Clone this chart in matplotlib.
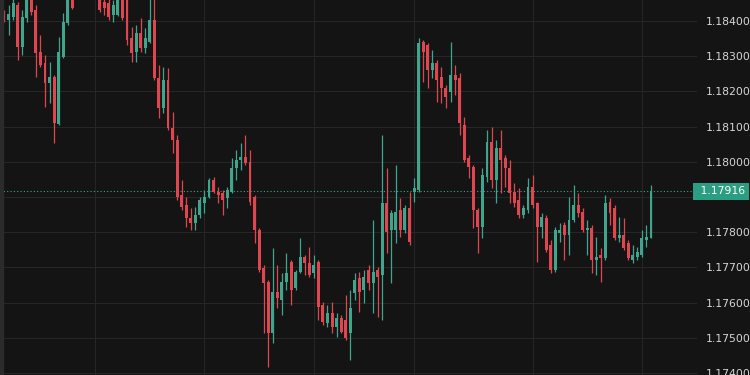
import matplotlib
matplotlib.use("Agg")
import matplotlib.pyplot as plt
import numpy as np

# EUR/USD intraday candles (visible window)
opens = [
    1.18423, 1.18403, 1.18411, 1.18446, 1.18326, 1.18409, 1.18474, 1.18431, 1.18312, 1.18281,
    1.18224, 1.18241, 1.18107, 1.18298, 1.18394, 1.18482, 1.18474, 1.18516, 1.18494, 1.18531,
    1.18502, 1.18474, 1.18454, 1.18451, 1.18417, 1.18417, 1.18468, 1.18460, 1.18352, 1.18312,
    1.18366, 1.18323, 1.18340, 1.18403, 1.18238, 1.18153, 1.18232, 1.18096, 1.18062, 1.17906,
    1.17877, 1.17840, 1.17826, 1.17849, 1.17883, 1.17900, 1.17948, 1.17914, 1.17911, 1.17897,
    1.17914, 1.17982, 1.18005, 1.18014, 1.18000, 1.17900, 1.17806, 1.17698, 1.17659, 1.17514,
    1.17630, 1.17607, 1.17659, 1.17715, 1.17642, 1.17687, 1.17730, 1.17713, 1.17684, 1.17715,
    1.17593, 1.17542, 1.17570, 1.17531, 1.17556, 1.17551, 1.17514, 1.17627, 1.17670, 1.17636,
    1.17693, 1.17656, 1.17693, 1.17678, 1.17883, 1.17806, 1.17806, 1.17863, 1.17806, 1.17869,
    1.17914, 1.17920, 1.18340, 1.18332, 1.18261, 1.18281, 1.18241, 1.18210, 1.18198, 1.18247,
    1.18238, 1.18105, 1.18011, 1.17985, 1.17863, 1.17815, 1.17957, 1.18056, 1.17948, 1.18039,
    1.18011, 1.17982, 1.17914, 1.17892, 1.17849, 1.17863, 1.17928, 1.17883, 1.17815, 1.17840,
    1.17764, 1.17693, 1.17798, 1.17820, 1.17792, 1.17835, 1.17877, 1.17857, 1.17806, 1.17812,
    1.17721, 1.17735, 1.17727, 1.17886, 1.17869, 1.17784, 1.17792, 1.17769, 1.17721, 1.17730,
    1.17735, 1.17778, 1.17784,
]
highs = [
    1.18431, 1.18446, 1.18465, 1.18454, 1.18431, 1.18488, 1.18488, 1.18446, 1.18360, 1.18303,
    1.18284, 1.18247, 1.18355, 1.18423, 1.18488, 1.18488, 1.18531, 1.18539, 1.18545, 1.18551,
    1.18516, 1.18488, 1.18474, 1.18465, 1.18460, 1.18482, 1.18482, 1.18474, 1.18383, 1.18389,
    1.18409, 1.18380, 1.18465, 1.18468, 1.18275, 1.18269, 1.18267, 1.18142, 1.18076, 1.17948,
    1.17900, 1.17869, 1.17872, 1.17900, 1.17920, 1.17954, 1.17957, 1.17928, 1.17920, 1.17928,
    1.18011, 1.18034, 1.18053, 1.18076, 1.18034, 1.17906, 1.17812, 1.17707, 1.17664, 1.17755,
    1.17707, 1.17684, 1.17741, 1.17721, 1.17693, 1.17784, 1.17735, 1.17758, 1.17735, 1.17721,
    1.17601, 1.17593, 1.17601, 1.17570, 1.17565, 1.17622, 1.17636, 1.17684, 1.17687, 1.17693,
    1.17707, 1.17835, 1.17701, 1.18076, 1.17982, 1.17863, 1.17991, 1.17897, 1.17877, 1.17914,
    1.17954, 1.18352, 1.18346, 1.18338, 1.18318, 1.18289, 1.18269, 1.18218, 1.18340, 1.18275,
    1.18252, 1.18127, 1.18019, 1.17991, 1.17869, 1.17982, 1.18090, 1.18099, 1.18062, 1.18090,
    1.18019, 1.18005, 1.17940, 1.17926, 1.17877, 1.17954, 1.17963, 1.17886, 1.17855, 1.17849,
    1.17778, 1.17815, 1.17826, 1.17829, 1.17900, 1.17934, 1.17911, 1.17869, 1.17835, 1.17820,
    1.17786, 1.17755, 1.17906, 1.17897, 1.17877, 1.17843, 1.17840, 1.17778, 1.17764, 1.17758,
    1.17806, 1.17820, 1.17934,
]
lows = [
    1.18397, 1.18360, 1.18403, 1.18289, 1.18303, 1.18397, 1.18417, 1.18241, 1.18269, 1.18156,
    1.18167, 1.18053, 1.18105, 1.18295, 1.18389, 1.18434, 1.18465, 1.18477, 1.18482, 1.18488,
    1.18463, 1.18426, 1.18417, 1.18403, 1.18397, 1.18414, 1.18403, 1.18332, 1.18284, 1.18284,
    1.18312, 1.18309, 1.18338, 1.18232, 1.18124, 1.18139, 1.18090, 1.18025, 1.17892, 1.17863,
    1.17815, 1.17806, 1.17806, 1.17840, 1.17855, 1.17897, 1.17911, 1.17883, 1.17849, 1.17869,
    1.17911, 1.17948, 1.17977, 1.17991, 1.17877, 1.17769, 1.17687, 1.17514, 1.17417, 1.17485,
    1.17585, 1.17565, 1.17636, 1.17593, 1.17636, 1.17684, 1.17678, 1.17673, 1.17670, 1.17551,
    1.17536, 1.17531, 1.17514, 1.17502, 1.17514, 1.17494, 1.17437, 1.17607, 1.17573, 1.17598,
    1.17636, 1.17570, 1.17559, 1.17551, 1.17741, 1.17656, 1.17769, 1.17786, 1.17798, 1.17764,
    1.17886, 1.17914, 1.18227, 1.18210, 1.18238, 1.18170, 1.18167, 1.18153, 1.18170, 1.18190,
    1.18076, 1.18000, 1.17954, 1.17812, 1.17741, 1.17784, 1.17943, 1.17926, 1.17883, 1.17911,
    1.17928, 1.17883, 1.17872, 1.17840, 1.17840, 1.17855, 1.17869, 1.17715, 1.17784, 1.17744,
    1.17684, 1.17687, 1.17772, 1.17721, 1.17735, 1.17829, 1.17843, 1.17801, 1.17735, 1.17684,
    1.17678, 1.17659, 1.17721, 1.17820, 1.17778, 1.17772, 1.17749, 1.17721, 1.17713, 1.17721,
    1.17730, 1.17758, 1.17784,
]
closes = [
    1.18406, 1.18420, 1.18451, 1.18326, 1.18411, 1.18474, 1.18426, 1.18309, 1.18275, 1.18224,
    1.18241, 1.18110, 1.18312, 1.18397, 1.18474, 1.18437, 1.18516, 1.18494, 1.18531, 1.18502,
    1.18474, 1.18431, 1.18437, 1.18411, 1.18446, 1.18468, 1.18409, 1.18346, 1.18309, 1.18366,
    1.18323, 1.18352, 1.18403, 1.18238, 1.18153, 1.18232, 1.18096, 1.18062, 1.17900, 1.17872,
    1.17840, 1.17826, 1.17849, 1.17892, 1.17900, 1.17948, 1.17914, 1.17906, 1.17892, 1.17920,
    1.17982, 1.18005, 1.18014, 1.17997, 1.17886, 1.17806, 1.17693, 1.17656, 1.17514, 1.17630,
    1.17613, 1.17659, 1.17684, 1.17636, 1.17687, 1.17730, 1.17713, 1.17678, 1.17707, 1.17587,
    1.17545, 1.17570, 1.17531, 1.17556, 1.17517, 1.17499, 1.17585, 1.17664, 1.17630, 1.17673,
    1.17656, 1.17687, 1.17673, 1.17883, 1.17801, 1.17855, 1.17857, 1.17806, 1.17869, 1.17772,
    1.17926, 1.18338, 1.18312, 1.18261, 1.18281, 1.18232, 1.18210, 1.18184, 1.18247, 1.18232,
    1.18110, 1.18005, 1.17985, 1.17863, 1.17815, 1.17963, 1.18056, 1.17948, 1.18039, 1.18005,
    1.17982, 1.17911, 1.17883, 1.17849, 1.17869, 1.17928, 1.17877, 1.17815, 1.17843, 1.17749,
    1.17693, 1.17806, 1.17806, 1.17792, 1.17835, 1.17877, 1.17855, 1.17806, 1.17812, 1.17721,
    1.17730, 1.17727, 1.17883, 1.17855, 1.17784, 1.17792, 1.17755, 1.17727, 1.17735, 1.17744,
    1.17784, 1.17786, 1.17916,
]

last_price = 1.17916
price_ticks = [1.184, 1.183, 1.182, 1.181, 1.180, 1.179, 1.178, 1.177, 1.176, 1.175, 1.174]
time_grid = [20, 44, 68, 90, 116, 140]   # candle index of the vertical grid lines

bg = '#141414'
up_col = '#3fa58d'
down_col = '#e0464f'
grid_col = '#262626'

o = np.array(opens)
h = np.array(highs)
l = np.array(lows)
c = np.array(closes)
X = np.arange(len(o))
up = c >= o
cols = np.where(up, up_col, down_col)

fig = plt.figure(figsize=(7.5, 3.75), dpi=100, facecolor=bg)
ax = fig.add_axes([0.0, 0.0, 697 / 750, 1.0])
ax.set_facecolor(bg)

# grid
for p in price_ticks:
    ax.axhline(p, color=grid_col, lw=0.8, zorder=0)
for t in time_grid:
    ax.axvline(t, color=grid_col, lw=0.8, zorder=0)

# candles
ax.vlines(X, l, h, colors=cols, lw=0.9, zorder=2)
body_lo = np.minimum(o, c)
body_h = np.maximum(np.abs(c - o), 0.000025)
ax.bar(X, body_h, bottom=body_lo, width=0.64, color=cols, linewidth=0, zorder=3)

# last price line
ax.axhline(last_price, color='#3fa58d', lw=0.8, ls=(0, (1, 2)), zorder=1)

ax.set_xlim(-0.88, 152.1)
ax.set_ylim(1.173944, 1.184597)

ax.yaxis.tick_right()
shown = [p for p in price_ticks if abs(p - last_price) > 0.0003]
ax.set_yticks(shown)
ax.set_yticklabels(['%.5f' % p for p in shown], color='#d6d6d6', fontsize=7.8)
ax.tick_params(axis='y', length=0, pad=6)
ax.set_xticks([])
for s in ax.spines.values():
    s.set_visible(False)

ax.text(1.0, last_price, ' 1.17916', transform=ax.get_yaxis_transform(),
        ha='left', va='center', color='white', fontsize=7.8,
        bbox=dict(boxstyle='square,pad=0.35', fc='#2a9d82', ec='none'), zorder=5, clip_on=False)

# left edge strip
fig.patches.append(plt.Rectangle((0, 0), 3 / 750, 1, transform=fig.transFigure,
                                 color='#2b2b2b', zorder=10))

fig.savefig('out.png', dpi=100, facecolor=bg)
